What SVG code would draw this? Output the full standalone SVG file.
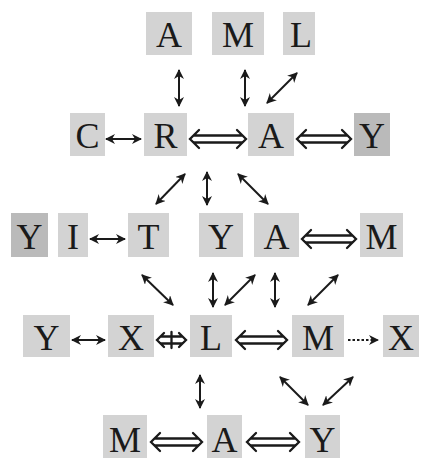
<svg xmlns="http://www.w3.org/2000/svg" width="425" height="459" viewBox="0 0 425 459">
<defs>
<style>
.b{fill:#d3d3d3}
.d{fill:#bababa}
text{font-family:"Liberation Serif","Times New Roman",serif;font-size:36px;fill:#1a1a1a;text-anchor:middle}
.a{stroke:#1a1a1a;stroke-width:2;fill:none}
.dd{stroke:#1a1a1a;stroke-width:2.3;fill:none;stroke-linejoin:miter;stroke-linecap:round}
</style>
<marker id="h" viewBox="0 0 10 10" refX="9" refY="5" markerWidth="10" markerHeight="10" markerUnits="userSpaceOnUse" orient="auto-start-reverse">
<path d="M0,0 L10,5 L0,10 L3,5 z" fill="#1a1a1a"/>
</marker>
</defs>
<rect width="425" height="459" fill="#fff"/>
<g id="n1"><rect class="b" x="146" y="12" width="46" height="43"/><text x="169" y="47">A</text></g>
<g id="n2"><rect class="b" x="212" y="12" width="52" height="43"/><text x="238" y="47">M</text></g>
<g id="n3"><rect class="b" x="283" y="12" width="32" height="43"/><text x="301" y="47">L</text></g>
<g id="n4"><rect class="b" x="70" y="113" width="35" height="43"/><text x="87.5" y="148">C</text></g>
<g id="n5"><rect class="b" x="144" y="113" width="43" height="43"/><text x="165.5" y="148">R</text></g>
<g id="n6"><rect class="b" x="248" y="113" width="46" height="43"/><text x="271" y="148">A</text></g>
<g id="n7"><rect class="d" x="354" y="113" width="36" height="43"/><text x="372" y="148">Y</text></g>
<g id="n8"><rect class="d" x="11" y="213" width="37" height="44"/><text x="29.5" y="249">Y</text></g>
<g id="n9"><rect class="b" x="58" y="213" width="30" height="44"/><text x="73" y="249">I</text></g>
<g id="n10"><rect class="b" x="128" y="213" width="41" height="44"/><text x="148.5" y="249">T</text></g>
<g id="n11"><rect class="b" x="199" y="213" width="44" height="44"/><text x="221" y="249">Y</text></g>
<g id="n12"><rect class="b" x="254" y="213" width="45" height="44"/><text x="276.5" y="249">A</text></g>
<g id="n13"><rect class="b" x="360" y="213" width="43" height="44"/><text x="381.5" y="249">M</text></g>
<g id="n14"><rect class="b" x="23" y="315" width="47" height="42"/><text x="46.5" y="350">Y</text></g>
<g id="n15"><rect class="b" x="108" y="315" width="46" height="42"/><text x="131" y="350">X</text></g>
<g id="n16"><rect class="b" x="190" y="315" width="42" height="42"/><text x="211" y="350">L</text></g>
<g id="n17"><rect class="b" x="292" y="315" width="52" height="42"/><text x="318" y="350">M</text></g>
<g id="n18"><rect class="b" x="383" y="315" width="36" height="42"/><text x="401" y="350">X</text></g>
<g id="n19"><rect class="b" x="103" y="415" width="44" height="43"/><text x="125" y="452">M</text></g>
<g id="n20"><rect class="b" x="207" y="415" width="35" height="43"/><text x="224.5" y="452">A</text></g>
<g id="n21"><rect class="b" x="305" y="415" width="35" height="43"/><text x="322.5" y="452">Y</text></g>
<g id="connectors">
<g class="a" marker-start="url(#h)" marker-end="url(#h)">
<line x1="179" y1="70" x2="179" y2="106"/>
<line x1="245" y1="70" x2="245" y2="106"/>
<line x1="297" y1="73" x2="267" y2="103"/>
<line x1="106" y1="139" x2="141" y2="139"/>
<line x1="185" y1="174" x2="156" y2="204"/>
<line x1="207" y1="172" x2="207" y2="205"/>
<line x1="238" y1="174" x2="268" y2="204"/>
<line x1="90" y1="239" x2="125" y2="239"/>
<line x1="142" y1="275" x2="173" y2="305"/>
<line x1="213" y1="273" x2="213" y2="307"/>
<line x1="255" y1="275" x2="225" y2="305"/>
<line x1="275" y1="273" x2="275" y2="307"/>
<line x1="338" y1="275" x2="308" y2="305"/>
<line x1="72" y1="340" x2="105" y2="340"/>
<line x1="200" y1="375" x2="200" y2="408"/>
<line x1="280" y1="377" x2="308" y2="405"/>
<line x1="353" y1="377" x2="323" y2="405"/>
</g>
<line class="a" x1="348" y1="340" x2="378" y2="340" stroke-dasharray="2.5,2" marker-end="url(#h)"/>
<g class="dd">
<path d="M199,130 L190,139 L199,148 M237,130 L246,139 L237,148 M194,135.5 H242 M194,142.5 H242"/>
<path d="M306,130 L297,139 L306,148 M342,130 L351,139 L342,148 M301,135.5 H347 M301,142.5 H347"/>
<path d="M311,230 L302,239 L311,248 M347,230 L356,239 L347,248 M306,235.5 H352 M306,242.5 H352"/>
<path d="M245,331 L236,340 L245,349 M278,331 L287,340 L278,349 M240,336.5 H283 M240,343.5 H283"/>
<path d="M164,333 L157,340 L164,347 M179,333 L186,340 L179,347 M161,336.5 H182 M161,343.5 H182 M171.5,332 V348"/>
<path d="M160,433 L151,442 L160,451 M193,433 L202,442 L193,451 M155,438.5 H198 M155,445.5 H198"/>
<path d="M256,433 L247,442 L256,451 M290,433 L299,442 L290,451 M251,438.5 H295 M251,445.5 H295"/>
</g>
</g>
</svg>
